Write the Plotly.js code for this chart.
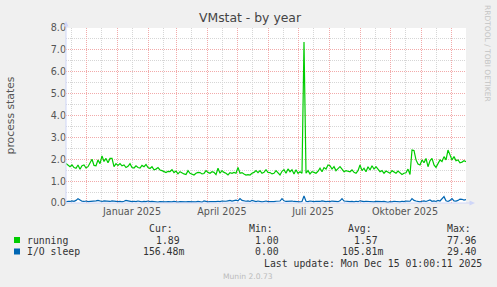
<!DOCTYPE html>
<html><head><meta charset="utf-8">
<script src="https://cdn.plot.ly/plotly-3.0.1.min.js"></script>
<style>html,body{margin:0;padding:0;background:#f0f0f0;overflow:hidden}#chart{width:497px;height:287px}</style>
</head><body><div id="chart"></div>
<script>
// ---- data (daily samples every 2 days starting at startDate) ----
const startDate = [2024, 10, 11]; // 2024-11-11 (UTC, month 0-based)
const stepDays = 2;
const running = [
1.81,1.72,1.66,1.74,1.62,1.59,1.74,1.54,1.70,1.74,
1.60,1.66,1.84,2.00,1.72,1.70,1.97,1.80,2.15,1.90,
2.04,1.84,2.04,2.04,1.66,1.80,1.72,1.80,1.70,1.74,
1.62,1.68,1.80,1.62,1.60,1.70,1.62,1.60,1.72,1.66,
1.76,1.62,1.58,1.66,1.52,1.55,1.62,1.51,1.48,1.44,
1.39,1.45,1.44,1.52,1.39,1.46,1.33,1.43,1.36,1.33,
1.30,1.48,1.36,1.32,1.28,1.36,1.40,1.39,1.33,1.35,
1.48,1.40,1.36,1.43,1.40,1.30,1.59,1.36,1.48,1.40,
1.36,1.28,1.39,1.36,1.40,1.36,1.63,1.36,1.39,1.33,
1.28,1.30,1.28,1.36,1.40,1.48,1.39,1.48,1.36,1.40,
1.52,1.40,1.39,1.33,1.36,1.48,1.40,1.28,1.45,1.52,
1.36,1.56,1.43,1.52,1.33,1.52,1.36,1.43,1.36,7.36,
1.36,1.48,1.33,1.43,1.40,1.36,1.45,1.59,1.43,1.62,
1.55,1.74,1.70,1.55,1.66,1.48,1.57,1.66,1.55,1.43,
1.48,1.45,1.43,1.51,1.40,1.36,1.48,1.74,1.48,1.59,
1.43,1.66,1.51,1.70,1.55,1.66,1.52,1.43,1.48,1.36,
1.46,1.40,1.36,1.48,1.40,1.36,1.46,1.40,1.30,1.36,
1.38,1.55,1.30,2.42,2.40,1.97,1.78,1.74,1.97,1.84,
2.04,1.66,1.93,2.04,1.74,1.63,1.84,1.97,1.90,2.12,
1.97,2.42,2.20,1.97,2.12,1.93,1.97,1.84,1.87,1.93,
1.89];
const ioSleep = [
0.05,0.08,0.07,0.10,0.08,0.12,0.20,0.15,0.08,0.07,
0.09,0.06,0.07,0.08,0.06,0.10,0.12,0.09,0.07,0.10,
0.08,0.09,0.07,0.10,0.08,0.09,0.06,0.07,0.05,0.08,
0.12,0.10,0.08,0.06,0.08,0.06,0.09,0.06,0.05,0.07,
0.06,0.09,0.06,0.07,0.05,0.06,0.04,0.06,0.05,0.07,
0.05,0.06,0.04,0.05,0.07,0.05,0.04,0.06,0.05,0.07,
0.05,0.06,0.05,0.07,0.06,0.05,0.07,0.06,0.04,0.10,
0.07,0.05,0.06,0.05,0.07,0.06,0.08,0.06,0.09,0.07,
0.08,0.10,0.12,0.09,0.11,0.13,0.10,0.20,0.12,0.09,
0.08,0.10,0.07,0.12,0.08,0.06,0.09,0.07,0.05,0.07,
0.09,0.06,0.05,0.07,0.06,0.08,0.07,0.09,0.20,0.10,
0.07,0.08,0.06,0.09,0.07,0.06,0.08,0.05,0.07,0.32,
0.08,0.06,0.09,0.07,0.06,0.08,0.06,0.07,0.10,0.07,
0.06,0.08,0.06,0.09,0.07,0.08,0.06,0.10,0.20,0.09,
0.07,0.08,0.06,0.07,0.05,0.08,0.06,0.10,0.07,0.06,
0.08,0.07,0.06,0.08,0.05,0.07,0.06,0.08,0.06,0.07,
0.05,0.03,0.06,0.05,0.08,0.06,0.07,0.05,0.08,0.06,
0.09,0.07,0.08,0.20,0.12,0.09,0.08,0.05,0.08,0.10,
0.07,0.09,0.14,0.08,0.10,0.07,0.12,0.09,0.18,0.29,
0.10,0.07,0.12,0.20,0.10,0.09,0.12,0.18,0.17,0.13,
0.16];
const seriesNames = ['running', 'I/O sleep'];
const statHeaders = ['Cur:', 'Min:', 'Avg:', 'Max:'];
const statsRunning = ['1.89', '1.00', '1.57', '77.96'];
const statsIoSleep = ['156.48m', '0.00', '105.81m', '29.40'];
const lastUpdate = 'Last update: Mon Dec 15 01:00:11 2025';
const monthStarts = ['2024-12-01','2025-01-01','2025-02-01','2025-03-01','2025-04-01','2025-05-01','2025-06-01','2025-07-01','2025-08-01','2025-09-01','2025-10-01','2025-11-01','2025-12-01'];
const midMonths = ['2024-11-16','2024-12-16','2025-01-16','2025-02-16','2025-03-16','2025-04-16','2025-05-16','2025-06-16','2025-07-16','2025-08-16','2025-09-16','2025-10-16','2025-11-16','2025-12-16'];
const tickLabelDates = ['2025-01-16','2025-04-16','2025-07-16','2025-10-16'];
const tickLabels = ['Januar 2025','April 2025','Juli 2025','Oktober 2025'];
const xRange = ['2024-11-11','2025-12-16'];
const yTicks = [0,1,2,3,4,5,6,7,8];

// ---- styling ----
const colors = ['#00cc00', '#0066b3'];
const FONT = 'DejaVu Sans, sans-serif';
const MONO = 'DejaVu Sans Mono, monospace';
const L = 66, R = 466, T = 28, B = 203;
const px = x => (x - L) / (R - L);
const py = y => (B - y) / (B - T);

const dates = running.map((_, i) => {
  const d = new Date(Date.UTC(startDate[0], startDate[1], startDate[2]));
  d.setUTCDate(d.getUTCDate() + i * stepDays);
  return d.toISOString().slice(0, 10);
});

const traces = [
  {x: dates, y: running, type: 'scatter', mode: 'lines', line: {color: colors[0], width: 1.2}, name: seriesNames[0]},
  {x: dates, y: ioSleep, type: 'scatter', mode: 'lines', line: {color: colors[1], width: 1.2}, name: seriesNames[1]},
  {x: tickLabelDates, y: tickLabelDates.map(() => null), xaxis: 'x2', yaxis: 'y', type: 'scatter', mode: 'lines', hoverinfo: 'skip', showlegend: false}
];

const ann = [];
const txt = (text, x, y, opts) => Object.assign({text, x: px(x), y: py(y), xref: 'paper', yref: 'paper',
  showarrow: false, xanchor: 'left', yanchor: 'middle', borderpad: 0, borderwidth: 0,
  font: {family: MONO, size: 9.8, color: '#333'}}, opts || {});
const headerX = [149, 249, 348, 447];
statHeaders.forEach((h, i) => ann.push(txt(h, headerX[i], 228)));
const rowY = [240, 251.5];
const valX = [[156, 255, 354, 447], [143, 255, 342, 447]];
[statsRunning, statsIoSleep].forEach((row, r) => {
  ann.push(txt(seriesNames[r], 27, rowY[r]));
  row.forEach((v, i) => ann.push(txt(v, valX[r][i], rowY[r])));
});
ann.push(txt(lastUpdate, 482, 263.5, {xanchor: 'right'}));
ann.push(txt('Munin 2.0.73', 248, 276, {xanchor: 'center', font: {family: FONT, size: 7.6, color: '#bbbbbb'}}));
ann.push(txt('RRDTOOL / TOBI OETIKER', 488, 53, {xanchor: 'center', textangle: 90, font: {family: FONT, size: 7.5, color: '#c4c4c4'}}));

const axisCol = '#cfd6f8';
const shapes = [
  {type: 'line', xref: 'paper', yref: 'paper', x0: px(66), x1: px(66), y0: py(203), y1: py(24), line: {color: axisCol, width: 1}},
  {type: 'line', xref: 'paper', yref: 'paper', x0: px(66), x1: px(472), y0: py(203), y1: py(203), line: {color: axisCol, width: 1}},
  {type: 'path', xref: 'paper', yref: 'paper', path: `M ${px(63.5)} ${py(26.5)} L ${px(68.5)} ${py(26.5)} L ${px(66)} ${py(21)} Z`, fillcolor: axisCol, line: {width: 0}},
  {type: 'path', xref: 'paper', yref: 'paper', path: `M ${px(469.5)} ${py(200.5)} L ${px(469.5)} ${py(205.5)} L ${px(475)} ${py(203)} Z`, fillcolor: axisCol, line: {width: 0}}
];
rowY.forEach((y, r) => shapes.push({type: 'rect', xref: 'paper', yref: 'paper', x0: px(14), x1: px(20), y0: py(y - 3), y1: py(y + 3), fillcolor: colors[r], line: {width: 0}}));

const majorGrid = '#f2aaaa', minorGrid = '#d6d6d6', dash = '1px,1px';
const layout = {
  width: 497, height: 287,
  margin: {l: L, r: 497 - R, t: T, b: 287 - B},
  paper_bgcolor: '#f0f0f0', plot_bgcolor: '#ffffff',
  showlegend: false,
  title: {text: 'VMstat - by year', x: 250 / 497, xref: 'container', xanchor: 'center', y: 1 - 18 / 287, yref: 'container', yanchor: 'middle',
    font: {family: FONT, size: 12.4, color: '#444'}},
  xaxis: {type: 'date', range: xRange, tickmode: 'array', tickvals: monthStarts, showticklabels: false, ticks: '',
    showgrid: true, gridcolor: majorGrid, griddash: dash, gridwidth: 1, zeroline: false, showline: false,
    minor: {tickmode: 'array', tickvals: midMonths, showgrid: true, gridcolor: minorGrid, griddash: dash, gridwidth: 1, ticks: ''}},
  xaxis2: {type: 'date', range: xRange, overlaying: 'x', anchor: 'y', side: 'bottom', tickmode: 'array', tickvals: tickLabelDates, ticktext: tickLabels,
    showgrid: false, zeroline: false, showline: false, ticks: '', ticklabelstandoff: 1, tickfont: {family: FONT, size: 9.6, color: '#555'}},
  yaxis: {range: [0, 8], tickmode: 'array', tickvals: yTicks, tickformat: '.1f', showgrid: true, gridcolor: majorGrid, griddash: dash,
    zeroline: false, showline: false, ticks: '', ticklabelstandoff: -1, tickfont: {family: FONT, size: 9.6, color: '#555'},
    minor: {dtick: 0.5, showgrid: true, gridcolor: minorGrid, griddash: dash, ticks: ''},
    title: {text: 'process states', font: {family: FONT, size: 10.8, color: '#555'}, standoff: 33}},
  annotations: ann,
  shapes: shapes
};
Plotly.newPlot('chart', traces, layout, {staticPlot: true, displayModeBar: false});
</script></body></html>
